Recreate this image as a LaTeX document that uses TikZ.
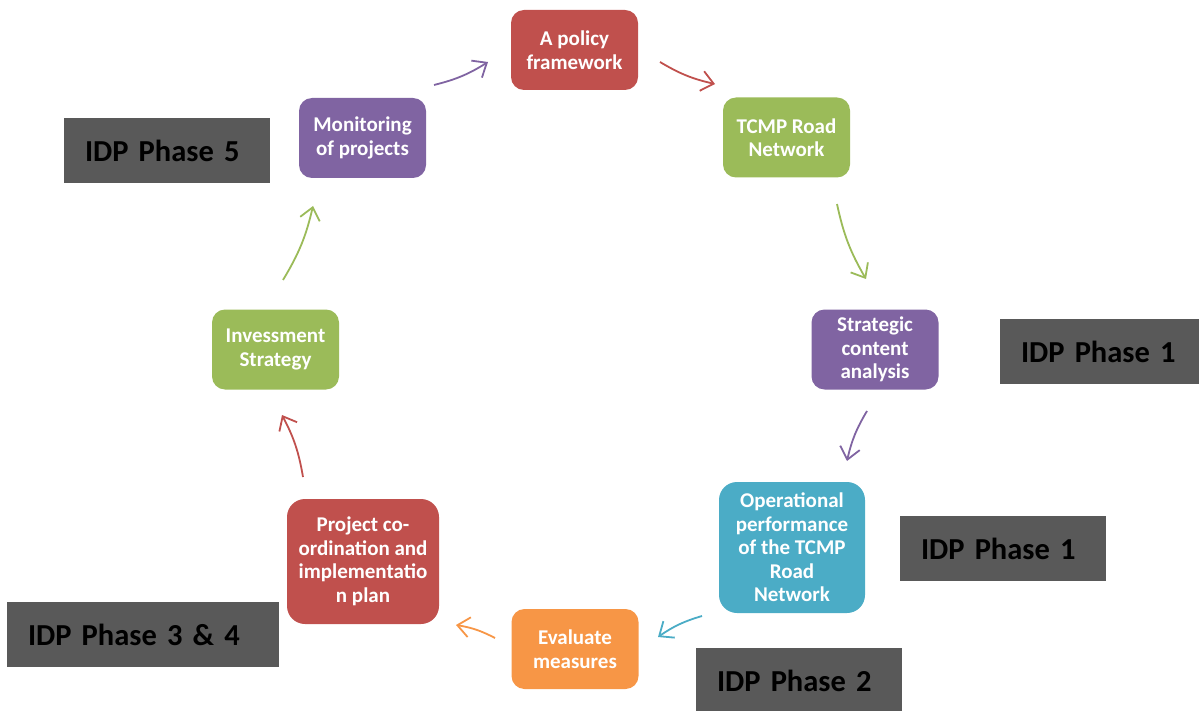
\documentclass[tikz,border=0pt]{standalone}
\usepackage{fontspec}
\setmainfont{Carlito}
\usetikzlibrary{arrows.meta}
\definecolor{cred}{HTML}{C0504D}
\definecolor{cgreen}{HTML}{9BBB59}
\definecolor{cpurple}{HTML}{8064A2}
\definecolor{cteal}{HTML}{4BACC6}
\definecolor{corange}{HTML}{F79646}
\definecolor{cgray}{HTML}{595959}
\begin{document}
\begin{tikzpicture}[x=1pt,y=-1pt,
  stage/.style={rounded corners=13pt, text=white, align=center,
    font=\bfseries\fontsize{21}{23.5}\selectfont, inner sep=0pt,
    minimum width=127pt, minimum height=80pt},
  phase/.style={fill=cgray, text=black, align=left, inner xsep=21pt, inner ysep=0pt,
    font=\bfseries\fontsize{30.5}{36}\selectfont, minimum height=65pt},
  flow/.style={line width=1.8pt, -{Straight Barb[length=12pt,width=20pt,line width=1.8pt]}, bend right=9}]
\useasboundingbox (0,0) rectangle (1199,711);

% stages
\node[stage, fill=cred] (policy) at (574.5,50) {A policy\\framework};
\node[stage, fill=cgreen] (tcmp) at (786.5,137.5) {TCMP Road\\Network};
\node[stage, fill=cpurple] (monitor) at (362.5,138) {Monitoring\\of projects};
\node[stage, fill=cpurple] (strategic) at (875,349.5) {Strategic\\content\\analysis};
\node[stage, fill=cteal, rounded corners=18pt, minimum width=146pt, minimum height=131pt] (oper) at (792,547.5) {Operational\\performance\\of the TCMP\\Road\\Network};
\node[stage, fill=corange] (eval) at (575,649) {Evaluate\\measures};
\node[stage, fill=cred, rounded corners=18pt, minimum width=152pt, minimum height=125pt] (project) at (363,561.5) {Project co-\\ordination and\\implementatio\\n plan};
\node[stage, fill=cgreen] (invest) at (275.5,349.5) {Invessment\\Strategy};

% phase labels
\node[phase, text width=164pt] (p5) at (167,150.5) {IDP Phase 5};
\node[phase, text width=157pt] (p1a) at (1099.5,351.5) {IDP Phase 1};
\node[phase, text width=164pt] (p1b) at (1003,548.5) {IDP Phase 1};
\node[phase, text width=164pt] (p2) at (799,680.5) {IDP Phase 2};
\node[phase, text width=230pt] (p34) at (143,634.5) {IDP Phase 3 \& 4};

% arrow end points
\coordinate (a1s) at (434,85);  \coordinate (a1e) at (488,62);
\coordinate (a2s) at (660,62);  \coordinate (a2e) at (715,84);
\coordinate (a3s) at (837,204); \coordinate (a3e) at (866,279);
\coordinate (a4s) at (867,411); \coordinate (a4e) at (847,461);
\coordinate (a5s) at (702,616); \coordinate (a5e) at (658,637);
\coordinate (a6s) at (495,638); \coordinate (a6e) at (456,625);
\coordinate (a7s) at (303,477); \coordinate (a7e) at (282,415);
\coordinate (a8s) at (283,280); \coordinate (a8e) at (313,206);

\draw[flow, cpurple] (a1s) to (a1e);
\draw[flow, cred] (a2s) to (a2e);
\draw[flow, cgreen] (a3s) to (a3e);
\draw[flow, cpurple] (a4s) to (a4e);
\draw[flow, cteal] (a5s) to (a5e);
\draw[flow, corange] (a6s) to (a6e);
\draw[flow, cred] (a7s) to (a7e);
\draw[flow, cgreen] (a8s) to (a8e);
\end{tikzpicture}
\end{document}
